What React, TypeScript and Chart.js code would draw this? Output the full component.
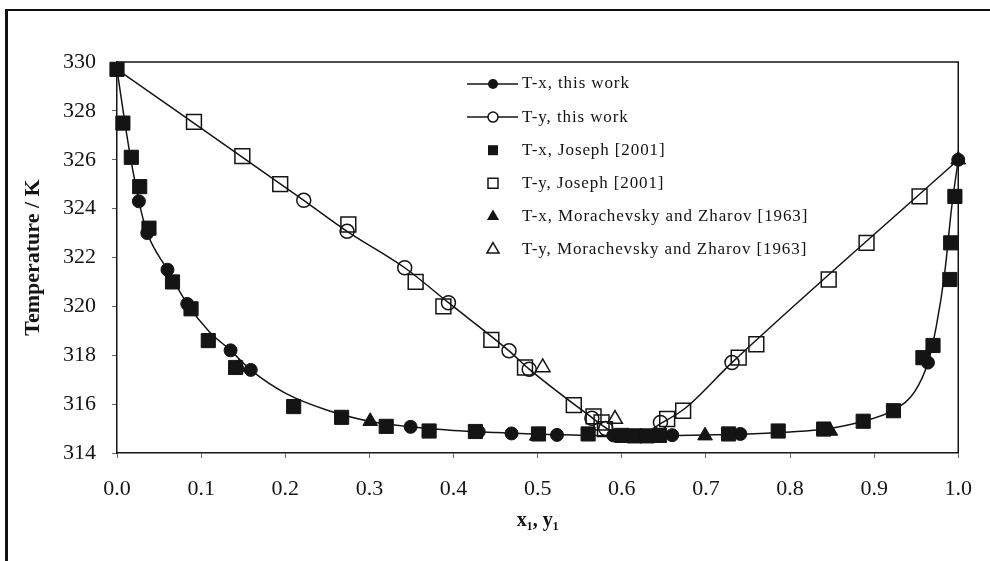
import React, { useEffect, useRef } from "react";
import { Chart, registerables } from "chart.js";

Chart.register(...registerables);

// ---------- axis ----------
const xTickValues = [0, 0.1, 0.2, 0.3, 0.4, 0.5, 0.6, 0.7, 0.8, 0.9, 1.0];
const xTickLabels = ["0.0", "0.1", "0.2", "0.3", "0.4", "0.5", "0.6", "0.7", "0.8", "0.9", "1.0"];
const yTickValues = [314, 316, 318, 320, 322, 324, 326, 328, 330];
const xTitle = "x\u2081, y\u2081";
const yTitle = "Temperature / K";

// ---------- fitted curves ----------
const txCurveX = [0, 0.009, 0.016, 0.022, 0.026, 0.036, 0.06, 0.0835, 0.11, 0.135, 0.159, 0.2, 0.25, 0.3, 0.349, 0.4, 0.45, 0.5, 0.55, 0.6, 0.65, 0.7, 0.75, 0.8, 0.842, 0.887, 0.923, 0.948, 0.964, 0.974, 0.984, 0.992, 1.0];
const txCurveT = [329.7, 327.6, 326.1, 325.0, 324.3, 323.0, 321.5, 320.1, 318.95, 318.2, 317.4, 316.45, 315.75, 315.3, 315.07, 314.92, 314.84, 314.77, 314.73, 314.7, 314.71, 314.74, 314.78, 314.86, 314.98, 315.3, 315.75, 316.5, 317.7, 319.2, 321.4, 324.0, 326.0];

const tyCurveX = [0, 0.222, 0.2735, 0.342, 0.394, 0.466, 0.49, 0.5645, 0.585, 0.605, 0.625, 0.646, 0.675, 0.731, 1.0];
const tyCurveT = [329.7, 324.34, 323.07, 321.58, 320.15, 318.18, 317.43, 315.45, 314.95, 314.72, 314.78, 315.2, 315.82, 317.7, 326.0];

// ---------- T-x, this work (filled circles) ----------
const txThisWorkX = [0, 0.026, 0.036, 0.06, 0.0835, 0.135, 0.159, 0.349, 0.43, 0.469, 0.523, 0.59, 0.605, 0.62, 0.64, 0.66, 0.741, 0.964, 1.0];
const txThisWorkT = [329.7, 324.3, 323.0, 321.5, 320.1, 318.2, 317.4, 315.07, 314.87, 314.8, 314.74, 314.72, 314.7, 314.7, 314.71, 314.73, 314.78, 317.7, 326.0];

// ---------- T-y, this work (open circles) ----------
const tyThisWorkX = [0.222, 0.2735, 0.342, 0.394, 0.466, 0.49, 0.5645, 0.581, 0.646, 0.731];
const tyThisWorkT = [324.34, 323.07, 321.58, 320.15, 318.18, 317.43, 315.42, 315.0, 315.25, 317.7];

// ---------- T-x, Joseph [2001] (filled squares) ----------
const txJosephX = [0, 0.007, 0.017, 0.027, 0.038, 0.066, 0.088, 0.1085, 0.141, 0.21, 0.267, 0.32, 0.371, 0.426, 0.501, 0.56, 0.6, 0.615, 0.63, 0.645, 0.727, 0.786, 0.84, 0.887, 0.923, 0.958, 0.97, 0.99, 0.991, 0.996];
const txJosephT = [329.7, 327.5, 326.1, 324.9, 323.2, 321.0, 319.9, 318.6, 317.5, 315.9, 315.46, 315.09, 314.9, 314.88, 314.78, 314.78, 314.72, 314.7, 314.7, 314.72, 314.78, 314.9, 314.98, 315.3, 315.73, 317.9, 318.4, 321.1, 322.6, 324.5];

// ---------- T-y, Joseph [2001] (open squares) ----------
const tyJosephX = [0.0915, 0.149, 0.194, 0.275, 0.355, 0.388, 0.445, 0.485, 0.543, 0.5665, 0.576, 0.58, 0.654, 0.673, 0.739, 0.76, 0.846, 0.891, 0.954];
const tyJosephT = [327.55, 326.15, 325.0, 323.35, 321.0, 320.0, 318.63, 317.5, 315.96, 315.5, 315.25, 314.98, 315.39, 315.73, 317.9, 318.45, 321.1, 322.6, 324.5];

// ---------- Morachevsky and Zharov [1963] ----------
const txMZX = [0.145, 0.301, 0.499, 0.699, 0.848, 1.0];
const txMZT = [317.5, 315.3, 314.7, 314.71, 314.9, 326.0];
const tyMZX = [0.506, 0.592];
const tyMZT = [317.5, 315.39];

// ---------- legend ----------
const legendLabels = [
  "T-x, this work",
  "T-y, this work",
  "T-x, Joseph [2001]",
  "T-y, Joseph [2001]",
  "T-x, Morachevsky and Zharov [1963]",
  "T-y, Morachevsky and Zharov [1963]",
];
const legendStyles = [
  { shape: "circle", filled: true, line: true },
  { shape: "circle", filled: false, line: true },
  { shape: "rect", filled: true, line: false },
  { shape: "rect", filled: false, line: false },
  { shape: "triangle", filled: true, line: false },
  { shape: "triangle", filled: false, line: false },
];

const INK = "#141414";
const SERIF = "'Liberation Serif', 'Times New Roman', serif";

const pts = (xs: number[], ys: number[]) => xs.map((x, i) => ({ x, y: ys[i] }));

function drawMarker(ctx: CanvasRenderingContext2D, shape: string, filled: boolean, x: number, y: number) {
  ctx.beginPath();
  if (shape === "circle") {
    ctx.arc(x, y, 5, 0, Math.PI * 2);
  } else if (shape === "rect") {
    ctx.rect(x - 5, y - 5, 10, 10);
  } else {
    const r = 7;
    ctx.moveTo(x, y - r);
    ctx.lineTo(x + r * Math.sin((2 * Math.PI) / 3), y - r * Math.cos((2 * Math.PI) / 3));
    ctx.lineTo(x + r * Math.sin((4 * Math.PI) / 3), y - r * Math.cos((4 * Math.PI) / 3));
    ctx.closePath();
  }
  if (filled) {
    ctx.fillStyle = INK;
    ctx.fill();
  } else {
    ctx.fillStyle = "#ffffff";
    ctx.fill();
    ctx.lineWidth = 1.5;
    ctx.strokeStyle = INK;
    ctx.stroke();
  }
}

const legendPlugin = {
  id: "paperLegend",
  afterDatasetsDraw(chart: any) {
    const ctx: CanvasRenderingContext2D = chart.ctx;
    const markerX = 493;
    const textX = 522;
    const top = 84;
    const step = 33.1;
    ctx.save();
    ctx.font = `17px ${SERIF}`;
    (ctx as any).letterSpacing = "0.9px";
    ctx.textBaseline = "middle";
    ctx.textAlign = "left";
    legendLabels.forEach((label, i) => {
      const st = legendStyles[i];
      const y = top + i * step;
      if (st.line) {
        ctx.beginPath();
        ctx.moveTo(markerX - 26, y);
        ctx.lineTo(markerX + 25, y);
        ctx.lineWidth = 1.5;
        ctx.strokeStyle = INK;
        ctx.stroke();
      }
      drawMarker(ctx, st.shape, st.filled, markerX, y);
      ctx.fillStyle = INK;
      ctx.fillText(label, textX, y);
    });
    ctx.restore();
  },
};

const frameBoxPlugin = {
  id: "frameBox",
  beforeDatasetsDraw(chart: any) {
    const { ctx, chartArea } = chart;
    ctx.save();
    ctx.strokeStyle = INK;
    ctx.lineWidth = 1.5;
    ctx.beginPath();
    ctx.moveTo(chartArea.left, chartArea.top);
    ctx.lineTo(chartArea.right, chartArea.top);
    ctx.lineTo(chartArea.right, chartArea.bottom);
    ctx.stroke();
    ctx.restore();
  },
};

export default function App() {
  const canvasRef = useRef<HTMLCanvasElement | null>(null);

  useEffect(() => {
    const canvas = canvasRef.current;
    if (!canvas) return;
    const chart = new Chart(canvas, {
      type: "line",
      data: {
        datasets: [
          {
            label: "T-x curve",
            data: pts(txCurveX, txCurveT),
            borderColor: INK,
            borderWidth: 1.5,
            pointRadius: 0,
            cubicInterpolationMode: "monotone",
            fill: false,
            order: 10,
          },
          {
            label: "T-y curve",
            data: pts(tyCurveX, tyCurveT),
            borderColor: INK,
            borderWidth: 1.5,
            pointRadius: 0,
            cubicInterpolationMode: "monotone",
            fill: false,
            order: 10,
          },
          {
            label: legendLabels[5],
            data: pts(tyMZX, tyMZT),
            showLine: false,
            clip: false,
            pointStyle: "triangle",
            pointRadius: 8.5,
            pointBackgroundColor: "rgba(0,0,0,0)",
            pointBorderColor: INK,
            pointBorderWidth: 1.5,
            order: 1,
          },
          {
            label: legendLabels[3],
            data: pts(tyJosephX, tyJosephT),
            showLine: false,
            clip: false,
            pointStyle: "rect",
            pointRadius: 10.5,
            pointBackgroundColor: "rgba(0,0,0,0)",
            pointBorderColor: INK,
            pointBorderWidth: 1.5,
            order: 1,
          },
          {
            label: legendLabels[1],
            data: pts(tyThisWorkX, tyThisWorkT),
            showLine: false,
            clip: false,
            pointStyle: "circle",
            pointRadius: 7,
            pointBackgroundColor: "rgba(0,0,0,0)",
            pointBorderColor: INK,
            pointBorderWidth: 1.5,
            order: 1,
          },
          {
            label: legendLabels[4],
            data: pts(txMZX, txMZT),
            showLine: false,
            clip: false,
            pointStyle: "triangle",
            pointRadius: 8.5,
            pointBackgroundColor: INK,
            pointBorderColor: INK,
            pointBorderWidth: 1,
            order: 1,
          },
          {
            label: legendLabels[2],
            data: pts(txJosephX, txJosephT),
            showLine: false,
            clip: false,
            pointStyle: "rect",
            pointRadius: 10,
            pointBackgroundColor: INK,
            pointBorderColor: INK,
            pointBorderWidth: 1,
            order: 1,
          },
          {
            label: legendLabels[0],
            data: pts(txThisWorkX, txThisWorkT),
            showLine: false,
            clip: false,
            pointStyle: "circle",
            pointRadius: 6.5,
            pointBackgroundColor: INK,
            pointBorderColor: INK,
            pointBorderWidth: 1,
            order: 1,
          },
        ],
      },
      options: {
        animation: false,
        responsive: false,
        devicePixelRatio: 1,
        layout: { padding: { top: 62, right: 30, left: 0, bottom: 0 } },
        plugins: {
          legend: { display: false },
          tooltip: { enabled: false },
        },
        scales: {
          x: {
            type: "linear",
            position: "bottom",
            min: 0,
            max: 1,
            afterBuildTicks: (scale: any) => {
              scale.ticks = xTickValues.map((v) => ({ value: v }));
            },
            afterFit: (scale: any) => {
              scale.height = 108;
            },
            ticks: {
              autoSkip: false,
              maxRotation: 0,
              padding: 18,
              color: INK,
              font: { family: SERIF, size: 22 },
              callback: (v: any) => {
                const idx = xTickValues.findIndex((t) => Math.abs(t - Number(v)) < 1e-9);
                return idx >= 0 ? xTickLabels[idx] : "";
              },
            },
            grid: { drawOnChartArea: false, drawTicks: true, tickLength: 5, color: "#666", lineWidth: 1 },
            border: { display: true, color: INK, width: 1.5 },
            title: {
              display: true,
              text: xTitle,
              color: INK,
              font: { family: SERIF, size: 20, weight: "bold" },
              padding: { top: 0, bottom: 28 },
            },
          },
          y: {
            type: "linear",
            min: 314,
            max: 330,
            afterBuildTicks: (scale: any) => {
              scale.ticks = yTickValues.map((v) => ({ value: v }));
            },
            afterFit: (scale: any) => {
              scale.width = 117;
            },
            ticks: {
              padding: 16,
              color: INK,
              font: { family: SERIF, size: 22 },
              callback: (v: any) => String(v),
            },
            grid: { drawOnChartArea: false, drawTicks: true, tickLength: 5, color: "#666", lineWidth: 1 },
            border: { display: true, color: INK, width: 1.5 },
            title: {
              display: true,
              text: yTitle,
              color: INK,
              font: { family: SERIF, size: 22, weight: "bold" },
              padding: { top: 20, bottom: 0 },
            },
          },
        },
      },
      plugins: [frameBoxPlugin, legendPlugin],
    } as any);
    return () => chart.destroy();
  }, []);

  return (
    <div style={{ position: "fixed", left: 0, top: 0, width: 990, height: 561, background: "#ffffff", overflow: "hidden" }}>
      <canvas ref={canvasRef} width={990} height={561} style={{ position: "absolute", left: 0, top: 0, width: 990, height: 561 }} />
      <div
        style={{
          position: "absolute",
          left: 5,
          top: 9,
          width: 990,
          height: 561,
          borderTop: "2px solid #111",
          borderLeft: "3px solid #111",
          pointerEvents: "none",
        }}
      />
    </div>
  );
}
